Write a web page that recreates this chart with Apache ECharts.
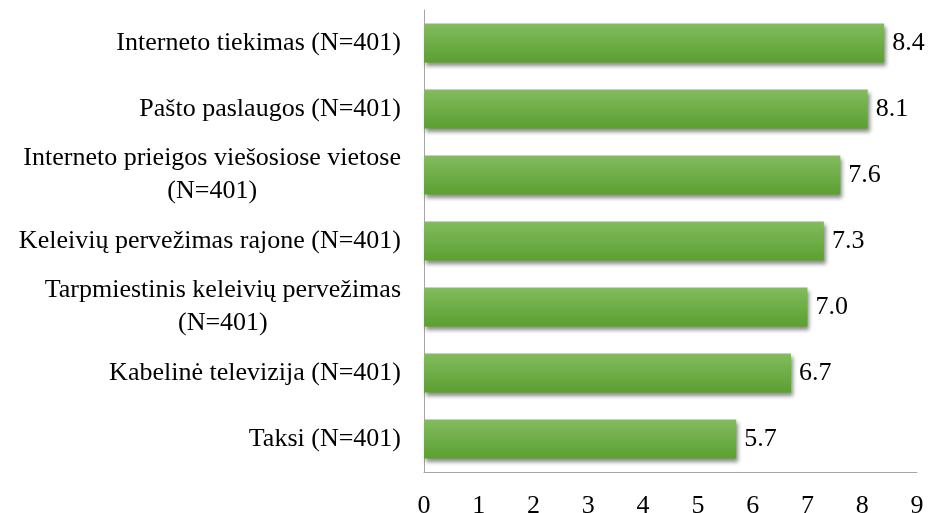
<!DOCTYPE html>
<html>
<head>
<meta charset="utf-8">
<script src="https://cdn.jsdelivr.net/npm/echarts@6/dist/echarts.min.js"></script>
<style>
  html, body { margin: 0; padding: 0; background: #ffffff; }
  #main { width: 937px; height: 513px; }
</style>
</head>
<body>
<div id="main"></div>
<script>
// categories listed bottom to top (category axis starts at the bottom)
var categories = [
  "Taksi (N=401)",
  "Kabelinė televizija (N=401)",
  "Tarpmiestinis keleivių pervežimas\n(N=401)",
  "Keleivių pervežimas rajone (N=401)",
  "Interneto prieigos viešosiose vietose\n(N=401)",
  "Pašto paslaugos (N=401)",
  "Interneto tiekimas (N=401)"
];
var values = [5.7, 6.7, 7.0, 7.3, 7.6, 8.1, 8.4];
var xTicks = [0, 1, 2, 3, 4, 5, 6, 7, 8, 9];

var font = "'Liberation Serif', 'Times New Roman', serif";

var myChart = echarts.init(document.getElementById("main"));

myChart.setOption({
  backgroundColor: "#ffffff",
  animation: false,
  grid: {
    left: 424,
    right: 20,
    top: 10,
    bottom: 41,
    outerBoundsMode: "none"
  },
  xAxis: {
    type: "value",
    min: xTicks[0],
    max: xTicks[xTicks.length - 1],
    interval: 1,
    splitLine: { show: false },
    axisTick: { show: false },
    axisLine: { show: true, lineStyle: { color: "#a6a6a6", width: 1 } },
    axisLabel: {
      margin: 21,
      color: "#000000",
      fontFamily: font,
      fontSize: 26
    }
  },
  yAxis: {
    type: "category",
    data: categories,
    axisTick: { show: false },
    axisLine: { show: true, lineStyle: { color: "#a6a6a6", width: 1 } },
    axisLabel: {
      margin: 23,
      color: "#000000",
      fontFamily: font,
      fontSize: 26,
      lineHeight: 33,
      formatter: function (v) {
        return v.split("\n").map(function (s) { return "{c|" + s + "}"; }).join("\n");
      },
      rich: {
        c: {
          align: "center",
          color: "#000000",
          fontFamily: font,
          fontSize: 26,
          lineHeight: 33
        }
      }
    }
  },
  series: [
    {
      type: "bar",
      data: values,
      barWidth: 39,
      itemStyle: {
        color: new echarts.graphic.LinearGradient(0, 0, 0, 1, [
          { offset: 0, color: "#82bc5e" },
          { offset: 1, color: "#5c9f31" }
        ]),
        shadowColor: "rgba(0, 0, 0, 0.45)",
        shadowBlur: 4,
        shadowOffsetX: 2,
        shadowOffsetY: 3
      },
      label: {
        show: true,
        position: "right",
        distance: 8,
        color: "#000000",
        fontFamily: font,
        fontSize: 26,
        formatter: function (p) { return p.value.toFixed(1); }
      }
    }
  ]
});
</script>
</body>
</html>
